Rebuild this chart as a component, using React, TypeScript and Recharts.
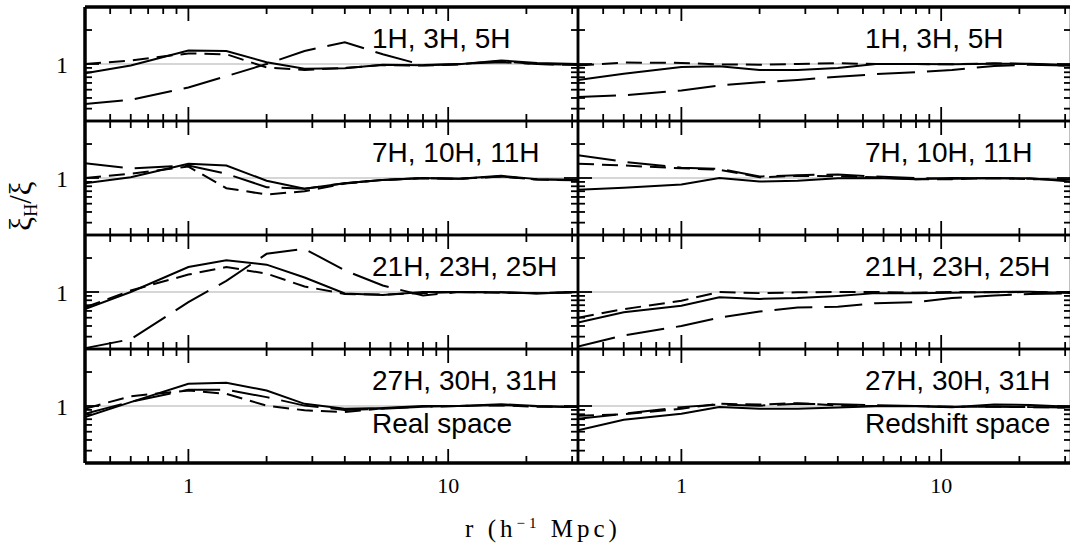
import React from "react";
import { LineChart, Line, XAxis, YAxis, ReferenceLine } from "recharts";

// separations (h^-1 Mpc) at which the ratios were measured
const rBins = [0.4, 0.6, 1, 1.4, 2, 2.8, 4, 5.6, 8, 11, 16, 22, 31.6];

const rowLabels = ["1H, 3H, 5H", "7H, 10H, 11H", "21H, 23H, 25H", "27H, 30H, 31H"];
const spaceLabels = ["Real space", "Redshift space"];

// real space, one list per row
const realSolid = [
  [0.78, 0.96, 1.44, 1.42, 1.05, 0.88, 0.89, 0.98, 0.97, 0.99, 1.1, 1.03, 1.0],
  [0.87, 1.02, 1.47, 1.4, 0.93, 0.75, 0.87, 0.95, 1.0, 0.98, 1.06, 0.97, 0.95],
  [0.63, 1.0, 1.96, 2.35, 2.09, 1.48, 0.96, 0.92, 1.0, 1.0, 0.99, 0.96, 1.0],
  [0.74, 1.11, 1.82, 1.87, 1.52, 1.06, 0.93, 0.95, 1.0, 1.0, 1.05, 1.0, 0.97],
];
const realShort = [
  [1.0, 1.1, 1.33, 1.3, 0.91, 0.85, 0.9, 0.97, 0.96, 0.99, 1.08, 1.0, 0.97],
  [1.0, 1.12, 1.36, 0.76, 0.64, 0.7, 0.86, 0.95, 0.99, 0.98, 1.04, 0.96, 0.94],
  [0.66, 1.04, 1.6, 1.96, 1.64, 1.16, 0.95, 0.93, 0.97, 1.0, 0.98, 0.97, 0.99],
  [0.93, 1.3, 1.52, 1.39, 1.01, 0.89, 0.85, 0.94, 0.98, 1.0, 1.02, 0.98, 0.98],
];
const realLong = [
  [0.34, 0.38, 0.53, 0.72, 1.0, 1.42, 1.8, 1.3, 0.97, 1.0, 1.05, 1.0, 0.98],
  [1.49, 1.29, 1.4, 1.12, 0.78, 0.75, 0.87, 0.95, 1.0, 0.98, 1.04, 0.96, 0.95],
  [0.22, 0.28, 0.76, 1.35, 2.8, 3.2, 1.79, 1.19, 0.91, 1.0, 0.99, 0.97, 1.0],
  [0.81, 1.12, 1.55, 1.55, 1.27, 1.01, 0.9, 0.93, 0.98, 1.0, 1.03, 0.99, 0.97],
];

// redshift space
const zSolid = [
  [0.65, 0.77, 0.92, 0.94, 0.85, 0.85, 0.9, 1.0, 1.0, 0.99, 1.01, 1.01, 0.97],
  [0.73, 0.77, 0.84, 1.0, 0.91, 0.93, 0.99, 1.0, 0.97, 1.0, 0.99, 0.99, 0.91],
  [0.44, 0.58, 0.69, 0.87, 0.83, 0.85, 0.9, 0.97, 0.97, 0.98, 1.0, 1.01, 0.97],
  [0.52, 0.69, 0.81, 0.97, 0.93, 0.93, 0.96, 0.99, 0.99, 0.97, 1.04, 1.03, 0.98],
];
const zShort = [
  [0.96, 1.04, 1.03, 0.99, 0.98, 1.0, 1.02, 1.0, 1.0, 0.99, 1.02, 1.0, 0.95],
  [1.47, 1.4, 1.3, 1.25, 1.02, 1.06, 1.05, 1.02, 0.97, 0.97, 1.0, 0.97, 0.96],
  [0.5, 0.63, 0.79, 1.0, 0.97, 0.99, 1.0, 1.0, 0.98, 1.0, 0.99, 1.0, 0.99],
  [0.77, 0.8, 0.93, 1.06, 1.04, 1.08, 1.01, 1.0, 1.0, 0.98, 0.98, 0.97, 0.96],
];
const zLong = [
  [0.41, 0.43, 0.49, 0.56, 0.61, 0.65, 0.71, 0.76, 0.8, 0.85, 0.95, 0.98, 0.96],
  [1.85, 1.55, 1.32, 1.28, 1.04, 1.08, 1.1, 1.04, 1.0, 0.98, 1.0, 0.98, 0.95],
  [0.23, 0.31, 0.4, 0.5, 0.59, 0.66, 0.67, 0.74, 0.76, 0.85, 0.91, 0.95, 0.96],
  [0.71, 0.81, 0.97, 1.04, 1.01, 1.06, 1.05, 1.02, 1.0, 0.98, 0.98, 0.97, 0.96],
];

const xTicks = [0.5, 0.6, 0.7, 0.8, 0.9, 1, 2, 3, 4, 5, 6, 7, 8, 9, 10, 20, 30];
const xLabels = [1, 10];
const yTicks = [0.3, 0.4, 0.5, 0.6, 0.7, 0.8, 0.9, 1, 2.5];

const PAD = 40;
const PANEL_W = 493;
const PANEL_H = 114;
const colLeft = [85, 578];
const rowTop = [7, 121, 235, 349];
const serif = "'Liberation Serif', 'Times New Roman', serif";
const sans = "'Liberation Sans', Arial, sans-serif";

type Side = "top" | "bottom" | "left" | "right";

function makeTick(side: Side, withLabel: boolean) {
  return (props: any) => {
    const { x, y, payload } = props;
    const v = payload.value;
    const vertical = side === "top" || side === "bottom";
    const major = vertical ? v === 1 || v === 10 : v === 1;
    const len = major ? 14 : 7;
    let x2 = x;
    let y2 = y;
    if (side === "bottom") y2 = y - len;
    if (side === "top") y2 = y + len;
    if (side === "left") x2 = x + len;
    if (side === "right") x2 = x - len;
    return (
      <g>
        <line x1={x} y1={y} x2={x2} y2={y2} stroke="#000" strokeWidth={1.8} />
        {withLabel && side === "bottom" && xLabels.includes(v) && (
          <text x={x} y={y + 30} textAnchor="middle" fontFamily={serif} fontSize={22} fill="#000">
            {v}
          </text>
        )}
        {withLabel && side === "left" && v === 1 && (
          <text x={x - 17} y={y + 9} textAnchor="end" fontFamily={serif} fontSize={24} fill="#000">
            1
          </text>
        )}
      </g>
    );
  };
}

function Panel({ col, row }: { col: number; row: number }) {
  const solid = col === 0 ? realSolid[row] : zSolid[row];
  const short = col === 0 ? realShort[row] : zShort[row];
  const long = col === 0 ? realLong[row] : zLong[row];
  const data = rBins.map((r, i) => ({ r, solid: solid[i], short: short[i], long: long[i] }));
  const isBottom = row === 3;
  const isTop = row === 0;
  const isLeft = col === 0;
  const frame = (outer: boolean) => ({ stroke: "#000", strokeWidth: outer ? 3.5 : 2.5 });
  const m = PAD - 1;

  return (
    <div style={{ position: "absolute", left: colLeft[col] - PAD, top: rowTop[row] - PAD }}>
      <LineChart
        width={PANEL_W + 2 * PAD}
        height={PANEL_H + 2 * PAD}
        data={data}
        margin={{ top: m, right: m, bottom: m, left: m }}
      >
        <XAxis
          dataKey="r"
          type="number"
          scale="log"
          domain={[0.4, 31.6]}
          allowDataOverflow
          ticks={xTicks}
          interval={0}
          height={1}
          tickSize={0}
          tickMargin={0}
          tickLine={false}
          axisLine={frame(isBottom)}
          tick={makeTick("bottom", isBottom)}
        />
        <XAxis
          xAxisId="top"
          dataKey="r"
          type="number"
          scale="log"
          orientation="top"
          domain={[0.4, 31.6]}
          allowDataOverflow
          ticks={xTicks}
          interval={0}
          height={1}
          tickSize={0}
          tickMargin={0}
          tickLine={false}
          axisLine={frame(isTop)}
          tick={makeTick("top", false)}
        />
        <YAxis
          type="number"
          scale="log"
          domain={[0.215, 4.65]}
          allowDataOverflow
          ticks={yTicks}
          interval={0}
          width={1}
          tickSize={0}
          tickMargin={0}
          tickLine={false}
          axisLine={frame(isLeft)}
          tick={makeTick("left", isLeft)}
        />
        <YAxis
          yAxisId="right"
          orientation="right"
          type="number"
          scale="log"
          domain={[0.215, 4.65]}
          allowDataOverflow
          ticks={yTicks}
          interval={0}
          width={1}
          tickSize={0}
          tickMargin={0}
          tickLine={false}
          axisLine={frame(false)}
          tick={makeTick("right", false)}
        />
        <ReferenceLine y={1} stroke="#c8c8c8" strokeWidth={1.5} />
        <Line type="linear" dataKey="solid" stroke="#000" strokeWidth={2} dot={false} isAnimationActive={false} />
        <Line
          type="linear"
          dataKey="short"
          stroke="#000"
          strokeWidth={2}
          strokeDasharray="16 8"
          dot={false}
          isAnimationActive={false}
        />
        <Line
          type="linear"
          dataKey="long"
          stroke="#000"
          strokeWidth={2}
          strokeDasharray="38 12"
          dot={false}
          isAnimationActive={false}
        />
      </LineChart>
    </div>
  );
}

export default function App() {
  return (
    <div
      style={{
        position: "absolute",
        left: 0,
        top: 0,
        width: 1070,
        height: 545,
        overflow: "hidden",
        background: "#fff",
      }}
    >
      {[0, 1].map((col) => [0, 1, 2, 3].map((row) => <Panel key={`${col}-${row}`} col={col} row={row} />))}
      <svg width={1070} height={545} style={{ position: "absolute", left: 0, top: 0, pointerEvents: "none" }}>
        {[0, 1].map((col) =>
          rowLabels.map((label, row) => (
            <text key={`${col}-${row}`} x={colLeft[col] + 287} y={rowTop[row] + 41} fontFamily={sans} fontSize={28} fill="#000">
              {label}
            </text>
          ))
        )}
        {spaceLabels.map((label, col) => (
          <text key={label} x={colLeft[col] + 287} y={rowTop[3] + 84} fontFamily={sans} fontSize={28} fill="#000">
            {label}
          </text>
        ))}
        <text x={543} y={537} textAnchor="middle" fontFamily={serif} fontSize={25} letterSpacing={4} fill="#000">
          r (h
          <tspan fontSize={15} dy={-9}>
            −1
          </tspan>
          <tspan dy={9}> Mpc)</tspan>
        </text>
        <text transform="translate(31,206) rotate(-90)" textAnchor="middle" fontFamily={serif} fontSize={31} fill="#000">
          ξ
          <tspan fontSize={18} dy={6}>
            H
          </tspan>
          <tspan dy={-6}>/ξ</tspan>
        </text>
      </svg>
    </div>
  );
}
